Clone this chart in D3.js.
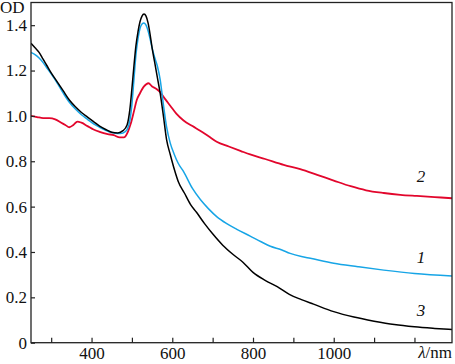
<!DOCTYPE html>
<html lang="en">
  <head>
   <meta http-equiv="Content-Type" content="text/html;charset=utf-8">
   <title>OD spectra</title>
   <script type="text/javascript" src="https://cdn.jsdelivr.net/npm/d3@7"></script>
   <style>
     body { margin: 0; background: white; }
     text { font-family: "Liberation Serif", "DejaVu Serif", serif; font-size: 17px; fill: #111; }
   </style>
   </head>

  <body>

<script>

// curve 1 (blue)
var wl1 = [250, 260, 270, 280, 290, 300, 315, 330, 345, 360, 375, 390, 405, 420, 435, 450, 465, 478, 488, 495, 500, 505, 510, 515, 520, 525, 530, 535, 540, 545, 550, 556, 563, 570, 578, 586, 595, 605, 615, 628, 650, 670, 690, 710, 735, 760, 793, 820, 843, 870, 892, 920, 942, 1000, 1060, 1124, 1200, 1293]
var od1 = [1.28, 1.27, 1.255, 1.235, 1.21, 1.185, 1.145, 1.10, 1.06, 1.03, 1.005, 0.985, 0.965, 0.95, 0.937, 0.927, 0.922, 0.925, 0.94, 0.98, 1.05, 1.16, 1.27, 1.34, 1.385, 1.405, 1.41, 1.40, 1.375, 1.34, 1.30, 1.26, 1.22, 1.16, 1.05, 0.95, 0.88, 0.83, 0.79, 0.754, 0.68, 0.63, 0.59, 0.556, 0.525, 0.50, 0.47, 0.445, 0.425, 0.41, 0.394, 0.38, 0.372, 0.35, 0.335, 0.32, 0.305, 0.294]

// curve 2 (red)
var wl2 = [250, 265, 280, 295, 310, 325, 335, 345, 355, 365, 375, 390, 405, 420, 440, 455, 470, 480, 490, 497, 505, 512, 520, 530, 541, 550, 560, 570, 582, 595, 610, 628, 650, 669, 690, 710, 740, 770, 793, 830, 876, 917, 959, 1000, 1042, 1080, 1124, 1165, 1206, 1250, 1293]
var od2 = [1.0, 0.995, 0.99, 0.99, 0.985, 0.97, 0.96, 0.95, 0.96, 0.975, 0.97, 0.955, 0.94, 0.93, 0.92, 0.915, 0.905, 0.905, 0.93, 0.965, 1.02, 1.07, 1.10, 1.13, 1.144, 1.13, 1.12, 1.105, 1.075, 1.045, 1.01, 0.98, 0.955, 0.935, 0.91, 0.886, 0.865, 0.845, 0.83, 0.81, 0.784, 0.765, 0.74, 0.715, 0.69, 0.672, 0.66, 0.652, 0.647, 0.642, 0.637]

// curve 3 (black)
var wl3 = [250, 260, 270, 280, 290, 300, 315, 330, 345, 360, 375, 390, 405, 420, 435, 450, 465, 478, 488, 495, 500, 505, 510, 515, 520, 525, 530, 535, 540, 545, 550, 556, 563, 570, 578, 586, 595, 605, 615, 630, 645, 660, 680, 700, 725, 750, 775, 800, 830, 860, 890, 920, 950, 1000, 1050, 1100, 1150, 1200, 1250, 1293]
var od3 = [1.32, 1.30, 1.28, 1.25, 1.22, 1.19, 1.15, 1.11, 1.07, 1.04, 1.015, 0.995, 0.975, 0.955, 0.94, 0.928, 0.925, 0.935, 0.96, 1.03, 1.12, 1.22, 1.31, 1.37, 1.415, 1.44, 1.449, 1.44, 1.41, 1.36, 1.30, 1.24, 1.17, 1.10, 1.0, 0.894, 0.83, 0.765, 0.71, 0.66, 0.61, 0.575, 0.525, 0.48, 0.43, 0.39, 0.355, 0.31, 0.275, 0.247, 0.213, 0.19, 0.17, 0.137, 0.113, 0.095, 0.08, 0.07, 0.063, 0.058]

var xTicks = [300, 400, 500, 600, 700, 800, 900, 1000, 1100, 1200]
var xLabels = [400, 600, 800, 1000]
var yTicks = [0, 0.2, 0.4, 0.6, 0.8, 1.0, 1.2, 1.4]

var curves = [
  {wl: wl2, od: od2, color: "#e2062c", width: 1.8, name: "2", lx: 1216, ly: 0.71},
  {wl: wl1, od: od1, color: "#17a5e6", width: 1.5, name: "1", lx: 1216, ly: 0.352},
  {wl: wl3, od: od3, color: "#000000", width: 1.5, name: "3", lx: 1216, ly: 0.118}
]

var width = 455
var height = 364
// plot box edges (px)
var pLeft = 31, pRight = 452, pTop = 2.5, pBottom = 342.7

var x = d3.scaleLinear().domain([250, 1293]).range([pLeft, pRight])
var y = d3.scaleLinear().domain([0, 1.5]).range([pBottom, pTop])

var svg = d3.select("body").append("svg")
  .attr("width", width)
  .attr("height", height)

// the lines go under the frame
var line = d3.line().curve(d3.curveMonotoneX)
  .x(function(d){return x(d[0])})
  .y(function(d){return y(d[1])})

svg.append("clipPath").attr("id", "clip")
  .append("rect").attr("x", pLeft).attr("y", pTop).attr("width", pRight - pLeft).attr("height", pBottom - pTop)

svg.selectAll("path.curve").data(curves).enter().append("path")
  .attr("class", "curve")
  .attr("clip-path", "url(#clip)")
  .attr("fill", "none")
  .attr("stroke", function(d){return d.color})
  .attr("stroke-width", function(d){return d.width})
  .attr("d", function(d){return line(d.wl.map(function(w, i){return [w, d.od[i]]}))})

// frame
svg.append("rect")
  .attr("x", pLeft).attr("y", pTop)
  .attr("width", pRight - pLeft).attr("height", pBottom - pTop)
  .attr("fill", "none").attr("stroke", "#222").attr("stroke-width", 1.3)

// x axis, ticks point inward
var xAxis = d3.axisBottom(x).tickValues(xTicks).tickSize(-5)
  .tickFormat(function(d){return xLabels.includes(d) ? d : ""})
var gx = svg.append("g").attr("transform", "translate(0," + pBottom + ")").call(xAxis)
gx.select(".domain").remove()
gx.selectAll("line").attr("stroke", "#222").attr("stroke-width", 1.2)
gx.selectAll("text").attr("font-family", null).attr("font-size", null).attr("dy", "0.68em").attr("y", 5)

var yAxis = d3.axisLeft(y).tickValues(yTicks).tickSize(-4)
  .tickFormat(function(d){return d == 0 ? "0" : d3.format(".1f")(d)})
var gy = svg.append("g").attr("transform", "translate(" + pLeft + ",0)").call(yAxis)
gy.select(".domain").remove()
gy.selectAll("line").attr("stroke", "#222").attr("stroke-width", 1.2)
gy.selectAll("text").attr("font-family", null).attr("font-size", null).attr("x", -4)

// axis names
svg.append("text").attr("x", 0).attr("y", 12.5).text("OD")
var xl = svg.append("text").attr("x", pRight).attr("y", 358).attr("text-anchor", "end")
xl.append("tspan").attr("font-style", "italic").text("λ")
xl.append("tspan").text("/nm")

// curve numbers
svg.selectAll("text.num").data(curves).enter().append("text")
  .attr("class", "num")
  .attr("font-style", "italic")
  .attr("text-anchor", "middle")
  .attr("x", function(d){return x(d.lx)})
  .attr("y", function(d){return y(d.ly)})
  .text(function(d){return d.name})

</script>

</body>
</html>
